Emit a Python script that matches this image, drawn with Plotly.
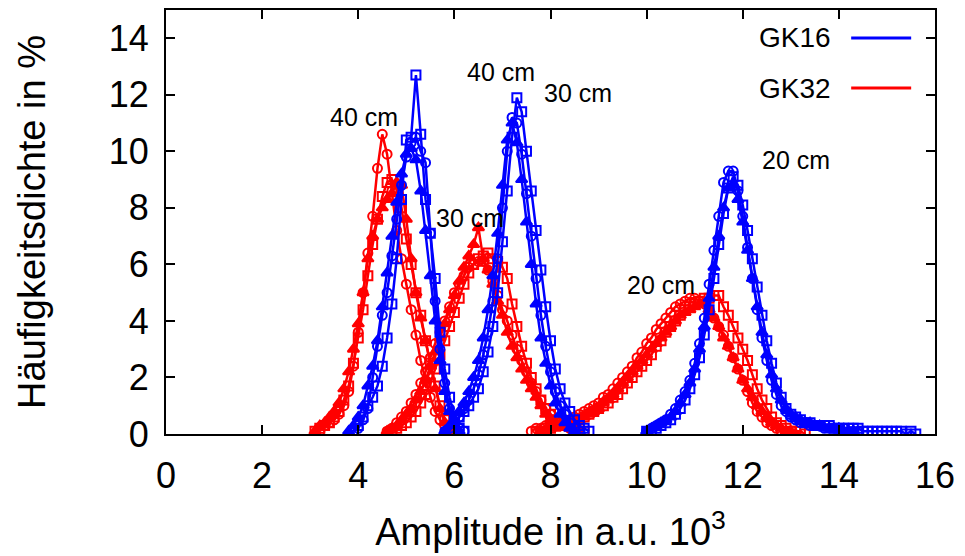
import plotly.graph_objects as go

# ---------------- data (amplitude in 10^3 a.u., bin width 0.1) ----------------
BIN = 0.1

# GK16 (blue)
B40_SQ_X0 = 3.9
B40_SQ = [0.1,0.3,0.6,1.0,1.3,1.7,2.4,3.4,4.6,6.2,8.3,10.4,10.5,12.7,10.6,8.3,7.1,5.5,3.6,2.3,1.3,0.6,0.2,0.1]
B40_CI_X0 = 3.9
B40_CI = [0.1,0.2,0.5,0.9,2.0,3.1,4.2,5.0,6.3,7.6,8.8,9.8,10.3,10.5,10.0,9.6,7.1,4.7,3.0,1.8,0.9,0.4,0.2,0.1]
B40_TR_X0 = 3.8
B40_TR = [0.1,0.3,0.6,1.0,1.7,2.4,3.3,4.5,5.7,7.0,8.2,9.2,9.9,10.1,9.7,8.6,7.2,5.6,4.0,2.6,1.5,0.8,0.3,0.1]

B30_SQ_X0 = 5.9
B30_SQ = [0.1,0.4,0.6,0.8,1.0,1.3,1.6,2.2,2.9,3.8,5.0,6.8,8.6,10.5,11.9,11.4,10.0,8.6,7.2,5.8,4.5,3.3,2.3,1.6,1.1,0.8,0.5,0.3,0.2,0.1]
B30_CI_X0 = 5.8
B30_CI = [0.1,0.2,0.4,0.6,0.9,1.2,1.6,2.1,2.8,3.6,4.7,6.2,8.0,10.0,11.2,11.0,9.9,8.5,7.0,5.5,4.2,3.1,2.2,1.5,1.0,0.7,0.4,0.2,0.1]
B30_TR_X0 = 5.8
B30_TR = [0.1,0.3,0.5,0.8,1.1,1.5,2.0,2.6,3.4,4.4,5.6,7.1,8.8,10.4,11.0,10.3,9.0,7.5,6.0,4.6,3.4,2.5,1.7,1.1,0.7,0.4,0.2,0.1]

B20_SQ_X0 = 10.0
B20_SQ = [0.1,0.1,0.2,0.3,0.4,0.5,0.7,0.9,1.2,1.6,2.1,2.7,3.5,4.4,5.5,6.7,7.8,8.7,9.1,8.8,8.1,7.2,6.2,5.2,4.2,3.3,2.5,1.8,1.3,0.9,
          0.7,0.6,0.5,0.4,0.4,0.3,0.3,0.3,0.3,0.2,0.2,0.2,0.2,0.2,0.2,0.1,0.1,0.1,0.1,0.1,0.1,0.1,0.1,0.1,0.0,0.1,0.0]
B20_CI_X0 = 10.0
B20_CI = [0.1,0.2,0.3,0.4,0.5,0.7,0.9,1.2,1.5,1.9,2.5,3.2,4.1,5.3,6.5,7.7,8.9,9.3,9.3,8.6,7.7,6.6,5.5,4.4,3.4,2.6,1.9,1.4,1.0,0.8,
          0.6,0.5,0.4,0.4,0.3,0.3,0.3,0.2,0.2,0.2,0.2,0.2,0.1,0.1,0.1]
B20_TR_X0 = 10.0
B20_TR = [0.1,0.2,0.3,0.4,0.5,0.6,0.8,1.1,1.4,1.8,2.3,3.0,3.8,4.8,5.9,7.0,8.0,8.7,8.8,8.3,7.5,6.5,5.5,4.5,3.6,2.8,2.1,1.6,1.2,0.9,
          0.7,0.6,0.5,0.4,0.4,0.3,0.3,0.2,0.2,0.2,0.2,0.1,0.1,0.1]

# GK32 (red)
R40_SQ_X0 = 3.1
R40_SQ = [0.1,0.2,0.3,0.4,0.6,0.8,1.2,1.7,2.5,3.4,4.4,5.6,6.7,7.6,8.4,8.9,9.0,8.7,8.0,6.9,6.0,5.0,4.2,3.3,2.5,1.7,1.0,0.5,0.2,0.1]
R40_CI_X0 = 3.2
R40_CI = [0.1,0.3,0.4,0.5,0.7,1.0,1.5,2.4,3.6,5.0,6.4,7.7,9.4,10.6,9.9,8.6,7.2,6.2,5.3,4.4,3.5,2.6,1.9,1.3,0.8,0.5,0.3,0.1]
R40_TR_X0 = 3.1
R40_TR = [0.1,0.3,0.4,0.6,0.8,1.1,1.6,2.2,3.0,3.9,5.0,6.2,7.0,7.6,8.0,8.3,8.5,8.9,8.8,7.6,6.2,5.0,4.1,3.3,2.4,1.6,0.9,0.4,0.1]

R30_SQ_X0 = 4.7
R30_SQ = [0.1,0.2,0.3,0.4,0.6,0.8,1.1,1.4,1.8,2.3,2.8,3.3,3.8,4.3,4.8,5.3,5.7,6.0,6.2,6.3,6.4,6.2,6.1,5.9,5.5,4.6,3.8,3.1,2.5,2.0,
          1.6,1.2,0.9,0.7,0.5,0.4,0.3,0.3,0.2,0.2,0.1]
R30_CI_X0 = 4.6
R30_CI = [0.1,0.2,0.4,0.6,0.8,1.1,1.4,1.8,2.2,2.7,3.2,3.6,4.0,4.5,5.0,5.3,5.6,5.9,6.0,6.1,6.1,5.8,5.4,4.9,4.4,4.0,3.5,3.0,2.6,2.2,
          1.8,1.5,1.2,0.9,0.7,0.5,0.4,0.3,0.2,0.1]
R30_TR_X0 = 4.6
R30_TR = [0.1,0.2,0.3,0.5,0.7,0.9,1.2,1.5,1.9,2.4,2.9,3.4,3.9,4.4,4.9,5.4,5.9,6.3,6.7,7.3,6.2,5.8,5.3,4.7,4.2,3.6,3.1,2.7,2.3,1.9,
          1.6,1.3,1.0,0.7,0.5,0.4,0.3,0.3,0.2,0.2,0.1]

R20_SQ_X0 = 7.7
R20_SQ = [0.1,0.1,0.2,0.2,0.3,0.3,0.3,0.4,0.4,0.5,0.6,0.7,0.8,0.9,1.0,1.1,1.3,1.4,1.6,1.8,2.0,2.2,2.4,2.6,2.8,3.1,3.3,3.6,3.8,4.0,
          4.2,4.4,4.5,4.6,4.7,4.8,4.8,4.9,4.9,4.5,4.2,3.8,3.4,3.0,2.6,2.1,1.6,1.2,0.9,0.6,0.4,0.3,0.2,0.1,0.1,0.1,0.0]
R20_CI_X0 = 7.6
R20_CI = [0.1,0.2,0.2,0.3,0.3,0.3,0.4,0.4,0.5,0.6,0.7,0.8,0.9,1.0,1.1,1.3,1.4,1.6,1.8,2.0,2.2,2.4,2.7,2.9,3.2,3.4,3.7,3.9,4.1,4.3,
          4.5,4.6,4.7,4.8,4.8,4.7,4.6,4.4,4.1,3.8,3.5,3.1,2.7,2.3,1.9,1.5,1.1,0.8,0.6,0.4,0.3,0.2,0.1,0.1]
R20_TR_X0 = 7.8
R20_TR = [0.1,0.1,0.2,0.2,0.3,0.3,0.4,0.4,0.5,0.6,0.7,0.8,0.9,1.1,1.2,1.4,1.6,1.8,2.0,2.2,2.4,2.6,2.8,3.0,3.2,3.4,3.6,3.8,4.0,4.2,
          4.3,4.4,4.5,4.6,4.6,4.4,4.1,3.8,3.4,3.1,2.7,2.3,1.9,1.6,1.3,1.0,0.8,0.6,0.4,0.3,0.2,0.1,0.1,0.0]

X_TICKS = [0, 2, 4, 6, 8, 10, 12, 14, 16]
Y_TICKS = [0, 2, 4, 6, 8, 10, 12, 14]
LEGEND_NAMES = ["GK16", "GK32"]

# distance labels: (text, x, y)
LABELS = [("40 cm", 4.12, 11.2), ("40 cm", 6.96, 12.8), ("30 cm", 8.58, 12.06),
          ("30 cm", 6.33, 7.64), ("20 cm", 13.1, 9.69), ("20 cm", 10.29, 5.27)]

# ---------------- styles ----------------
BLUE = "#0000ff"
RED = "#ff0000"
FONT = "Liberation Sans, Arial, Helvetica, sans-serif"

SYMBOLS = {"sq": ("square-open", 9), "ci": ("circle-open", 9), "tr": ("triangle-up", 10)}

red_series = [(R40_SQ_X0, R40_SQ, "sq"), (R40_CI_X0, R40_CI, "ci"), (R40_TR_X0, R40_TR, "tr"),
              (R30_SQ_X0, R30_SQ, "sq"), (R30_CI_X0, R30_CI, "ci"), (R30_TR_X0, R30_TR, "tr"),
              (R20_SQ_X0, R20_SQ, "sq"), (R20_CI_X0, R20_CI, "ci"), (R20_TR_X0, R20_TR, "tr")]
blue_series = [(B40_SQ_X0, B40_SQ, "sq"), (B40_CI_X0, B40_CI, "ci"), (B40_TR_X0, B40_TR, "tr"),
               (B30_SQ_X0, B30_SQ, "sq"), (B30_CI_X0, B30_CI, "ci"), (B30_TR_X0, B30_TR, "tr"),
               (B20_SQ_X0, B20_SQ, "sq"), (B20_CI_X0, B20_CI, "ci"), (B20_TR_X0, B20_TR, "tr")]

fig = go.Figure()

def add_series(x0, ys, kind, color, name):
    xs = [round(x0 + BIN * i, 2) for i in range(len(ys))]
    sym, size = SYMBOLS[kind]
    fig.add_trace(go.Scatter(
        x=xs, y=ys, mode="lines+markers", name=name, showlegend=False,
        line=dict(color=color, width=2.5),
        marker=dict(symbol=sym, size=size, color=color, line=dict(color=color, width=2)),
    ))

for x0, ys, kind in red_series:
    add_series(x0, ys, kind, RED, LEGEND_NAMES[1])
for x0, ys, kind in blue_series:
    add_series(x0, ys, kind, BLUE, LEGEND_NAMES[0])

annotations = []
for text, x, y in LABELS:
    annotations.append(dict(x=x, y=y, xref="x", yref="y", text=text, showarrow=False,
                            font=dict(family=FONT, size=25, color="black")))

# legend (gnuplot style: text left of line sample)
shapes = []
for name, color, py in [(LEGEND_NAMES[0], BLUE, 0.934), (LEGEND_NAMES[1], RED, 0.816)]:
    annotations.append(dict(x=0.868, y=py, xref="paper", yref="paper", text=name, showarrow=False,
                            xanchor="right", yanchor="middle",
                            font=dict(family=FONT, size=28, color="black")))
    shapes.append(dict(type="line", xref="paper", yref="paper", x0=0.891, x1=0.969, y0=py, y1=py,
                       line=dict(color=color, width=3)))

axis_common = dict(
    showline=True, linecolor="black", linewidth=2, mirror="allticks",
    ticks="inside", ticklen=9, tickwidth=2, tickcolor="black",
    showgrid=False, zeroline=False, automargin=False,
    tickfont=dict(family=FONT, size=36, color="black"),
)

# the page body adds an 8 px offset, so the figure is sized to fit the 965x556 window
fig.update_layout(
    width=957, height=548,
    margin=dict(l=158, r=30, t=2, b=122),
    paper_bgcolor="white", plot_bgcolor="white",
    xaxis=dict(range=[0, 16], tickvals=X_TICKS, ticklabelstandoff=9,
               title=dict(text="Amplitude in a.u. 10<sup>3</sup>", standoff=23,
                          font=dict(family=FONT, size=38, color="black")),
               **axis_common),
    yaxis=dict(range=[0, 15], tickvals=Y_TICKS, ticklabelstandoff=8,
               title=dict(text="Häufigkeitsdichte in %", standoff=51,
                          font=dict(family=FONT, size=38, color="black")),
               **axis_common),
    annotations=annotations,
    shapes=shapes,
)

fig.write_html("out.html")
